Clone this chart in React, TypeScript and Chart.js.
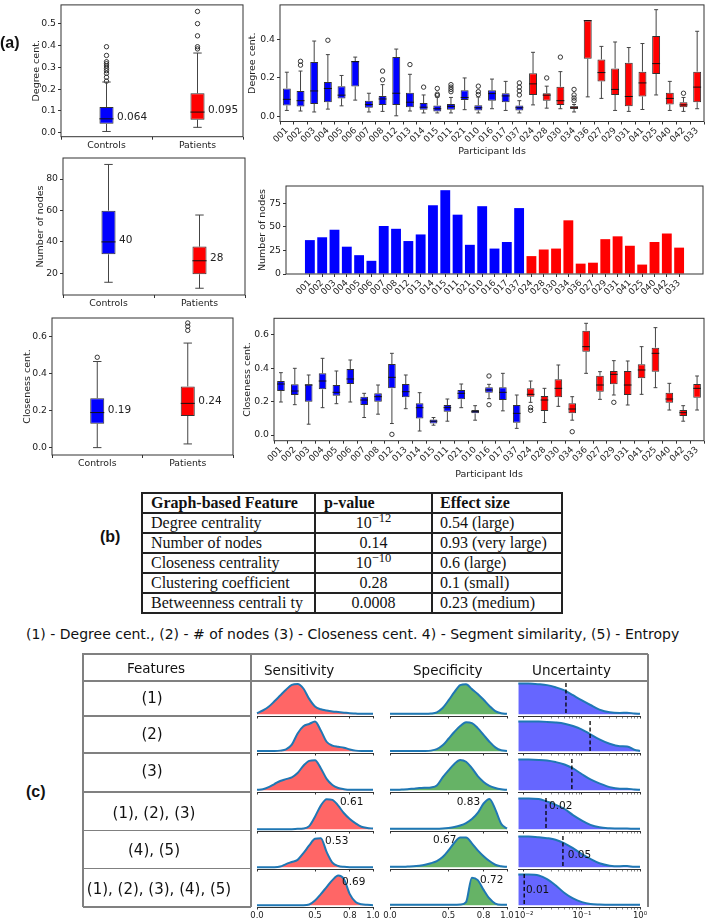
import React, { useEffect, useRef } from 'react';
import { Chart, registerables } from 'chart.js';

Chart.register(...registerables);

// ---------------- data ----------------
const PARTICIPANTS = ['001','002','003','004','005','006','007','008','012','013','014','015','011','021','010','016','017','037','024','028','030','034','036','027','029','031','041','025','040','042','033'];
const CONTROL_COUNT = 18;
const GROUPS = ['Controls', 'Patients'];

const NODE_COUNTS = [36,39,47,29,20,14,51,48,35,42,73,89,63,31,72,27,34,70,19,26,27,57,11,12,37,40,30,10,34,43,28];

// [lower whisker, Q1, median, Q3, upper whisker]
const DEGREE_BOX = [
  [0.03,0.056,0.088,0.145,0.23],[0.027,0.051,0.081,0.132,0.236],[0.022,0.064,0.132,0.284,0.393],[0.037,0.073,0.145,0.179,0.322],
  [0.054,0.093,0.11,0.157,0.213],[0.084,0.155,0.285,0.289,0.309],[0.022,0.044,0.061,0.081,0.12],[0.025,0.059,0.09,0.106,0.165],
  [0.002,0.059,0.12,0.309,0.351],[0.027,0.047,0.073,0.123,0.219],[0.017,0.034,0.047,0.069,0.111],[0.017,0.025,0.039,0.056,0.1],
  [0.017,0.034,0.051,0.064,0.098],[0.034,0.084,0.098,0.135,0.2],[0.017,0.03,0.044,0.057,0.1],[0.039,0.081,0.118,0.135,0.194],
  [0.03,0.073,0.106,0.12,0.182],[0.017,0.03,0.044,0.056,0.081],[0.059,0.111,0.169,0.224,0.334],[0.042,0.081,0.11,0.12,0.157],
  [0.039,0.059,0.081,0.154,0.233],[0.022,0.037,0.047,0.052,0.061],[0.101,0.3,0.5,0.5,0.5],[0.093,0.182,0.228,0.297,0.365],
  [0.03,0.111,0.14,0.25,0.388],[0.025,0.052,0.103,0.28,0.359],[0.035,0.103,0.174,0.233,0.38],[0.111,0.221,0.275,0.419,0.557],
  [0.03,0.061,0.093,0.122,0.182],[0.025,0.047,0.059,0.073,0.098],[0.039,0.073,0.152,0.233,0.444],
];
const DEGREE_OUTLIERS = [[],[0.287,0.267],[],[0.397],[],[],[],[0.236,0.19],[],[0.27],[0.152],[0.145,0.115,0.108],[0.165,0.152,0.14,0.128],[],[0.157,0.128,0.113],[],[],[0.174,0.152,0.132,0.111],[],[0.2],[0.309],[0.14,0.111,0.095,0.081],[],[],[],[],[],[],[],[0.12],[]];

const CLOSENESS_BOX = [
  [0.198,0.264,0.306,0.324,0.374],[0.182,0.24,0.264,0.304,0.4],[0.065,0.2,0.3,0.304,0.36],[0.164,0.274,0.324,0.37,0.46],
  [0.188,0.236,0.256,0.3,0.384],[0.198,0.306,0.336,0.396,0.45],[0.105,0.18,0.21,0.23,0.25],[0.125,0.2,0.23,0.25,0.3],
  [0.069,0.28,0.346,0.426,0.49],[0.158,0.226,0.26,0.306,0.36],[0.024,0.099,0.164,0.19,0.254],[0.059,0.069,0.083,0.093,0.105],
  [0.083,0.14,0.164,0.18,0.216],[0.164,0.214,0.25,0.27,0.306],[0.089,0.13,0.14,0.15,0.176],[0.218,0.254,0.27,0.286,0.304],
  [0.145,0.21,0.256,0.286,0.37],[0.04,0.073,0.13,0.18,0.24],[0.196,0.23,0.244,0.28,0.324],[0.075,0.144,0.21,0.234,0.28],
  [0.172,0.226,0.28,0.334,0.42],[0.089,0.13,0.156,0.19,0.23],[0.37,0.5,0.53,0.626,0.67],[0.214,0.26,0.3,0.356,0.38],
  [0.24,0.304,0.364,0.384,0.446],[0.18,0.24,0.3,0.384,0.444],[0.244,0.34,0.39,0.424,0.53],[0.284,0.38,0.49,0.524,0.644],
  [0.15,0.194,0.216,0.254,0.31],[0.083,0.114,0.134,0.15,0.176],[0.15,0.224,0.28,0.306,0.354],
];
const CLOSENESS_OUTLIERS = [[],[],[],[],[],[],[],[],[0.004],[],[],[],[],[],[],[0.354,0.182],[],[],[0.165,0.148],[],[],[0.02],[],[],[0.196],[],[],[],[],[],[]];

const DEGREE_GROUP_BOX = [[0.006,0.041,0.064,0.118,0.233],[0.025,0.06,0.095,0.181,0.366]];
const DEGREE_GROUP_OUTLIERS = [[0.237,0.255,0.273,0.285,0.296,0.307,0.317,0.326,0.355,0.395],[0.385,0.395,0.445,0.501,0.557]];
const NODES_GROUP_BOX = [[14.3,32.1,40,59.9,89.3],[10.5,19.4,28,37,57.1]];
const NODES_GROUP_OUTLIERS = [[],[]];
const CLOSENESS_GROUP_BOX = [[0.0,0.13,0.19,0.268,0.467],[0.02,0.172,0.24,0.332,0.567]];
const CLOSENESS_GROUP_OUTLIERS = [[0.49],[0.636,0.658,0.676]];

const DEGREE_GROUP_TICKS = [0,0.1,0.2,0.3,0.4,0.5];
const DEGREE_TICKS = [0,0.2,0.4];
const NODES_GROUP_TICKS = [20,40,60,80];
const NODES_TICKS = [0,25,50,75];
const CLOSENESS_TICKS = [0,0.2,0.4,0.6];

const TABLE_HEADERS = ['Graph-based Feature','p-value','Effect size'];
const TABLE_FEATURES = ['Degree centrality','Number of nodes','Closeness centrality','Clustering coefficient','Betweenness centrali ty'];
const TABLE_PVALUES = ['10^-12','0.14','10^-10','0.28','0.0008'];
const TABLE_EFFECTS = ['0.54 (large)','0.93 (very large)','0.6 (large)','0.1 (small)','0.23 (medium)'];

const FEATURE_LEGEND = '(1) - Degree cent., (2) - # of nodes (3) - Closeness cent. 4) - Segment similarity, (5) - Entropy';
const GRID_HEADERS = ['Features','Sensitivity','Specificity','Uncertainty'];
const FEATURE_SETS = ['(1)','(2)','(3)','(1), (2), (3)','(4), (5)','(1), (2), (3), (4), (5)'];

const DENSITY_X = [0,0.05,0.1,0.15,0.2,0.25,0.3,0.35,0.4,0.45,0.5,0.55,0.6,0.65,0.7,0.75,0.8,0.85,0.9,0.95,1.0];
const SENSITIVITY_1 = [0.03,0.12,0.24,0.42,0.61,0.8,0.96,0.99,0.84,0.5,0.25,0.16,0.12,0.09,0.07,0.05,0.03,0.02,0.01,0.01,0.01];
const SENSITIVITY_2 = [0.01,0.01,0.01,0.01,0.02,0.06,0.22,0.6,0.84,0.92,1.0,0.7,0.32,0.19,0.15,0.12,0.06,0.02,0.01,0.01,0.01];
const SENSITIVITY_3 = [0.01,0.03,0.1,0.2,0.3,0.36,0.42,0.56,0.8,0.96,0.98,0.72,0.37,0.17,0.07,0.03,0.01,0.01,0.01,0.01,0.01];
const SENSITIVITY_4 = [0,0,0,0,0,0,0,0.01,0.02,0.1,0.41,0.77,0.98,0.96,0.77,0.52,0.33,0.19,0.08,0.04,0.02];
const SENSITIVITY_5 = [0,0,0,0,0.02,0.1,0.17,0.24,0.46,0.71,0.93,0.95,0.5,0.15,0.04,0.01,0,0,0,0,0];
const SENSITIVITY_6 = [0,0,0,0,0,0,0,0,0,0.02,0.15,0.36,0.59,0.82,0.97,0.85,0.36,0.1,0.03,0.01,0];
const SPECIFICITY_1 = [0.01,0.01,0.01,0.01,0.01,0.01,0.01,0.02,0.06,0.2,0.45,0.72,0.95,0.98,0.82,0.66,0.47,0.27,0.1,0.03,0.01];
const SPECIFICITY_2 = [0.01,0.01,0.01,0.01,0.01,0.01,0.01,0.02,0.07,0.2,0.42,0.65,0.85,0.98,0.95,0.78,0.55,0.32,0.13,0.03,0.01];
const SPECIFICITY_3 = [0.01,0.01,0.02,0.03,0.05,0.07,0.08,0.09,0.15,0.42,0.65,0.86,0.99,0.93,0.72,0.46,0.27,0.14,0.07,0.03,0.01];
const SPECIFICITY_4 = [0.01,0.01,0.01,0.01,0.01,0.01,0.01,0.01,0.01,0.02,0.04,0.07,0.12,0.2,0.33,0.53,0.84,0.99,0.65,0.18,0.02];
const SPECIFICITY_5 = [0.01,0.01,0.01,0.02,0.03,0.05,0.08,0.13,0.2,0.33,0.55,0.8,0.97,0.97,0.78,0.55,0.36,0.2,0.08,0.03,0.01];
const SPECIFICITY_6 = [0.01,0.01,0.01,0.01,0.01,0.01,0.01,0.01,0.01,0.01,0.01,0.01,0.02,0.1,0.9,0.82,0.5,0.22,0.05,0.01,0.01];

const UNCERTAINTY_X = [0.008,0.012,0.018,0.025,0.035,0.05,0.07,0.1,0.14,0.2,0.3,0.45,0.6,0.8,1.0];
const UNCERTAINTY_1 = [1,1,0.98,0.95,0.88,0.78,0.62,0.45,0.3,0.15,0.06,0.04,0.05,0.02,0.01];
const UNCERTAINTY_2 = [1,1,1,0.99,0.97,0.93,0.85,0.73,0.57,0.4,0.25,0.17,0.16,0.05,0.01];
const UNCERTAINTY_3 = [1,1,0.99,0.97,0.92,0.84,0.71,0.52,0.35,0.22,0.1,0.05,0.05,0.02,0.01];
const UNCERTAINTY_4 = [1,1,0.99,0.9,0.8,0.66,0.46,0.28,0.14,0.06,0.03,0.02,0.02,0.01,0.01];
const UNCERTAINTY_5 = [1,1,0.98,0.95,0.9,0.78,0.62,0.43,0.27,0.13,0.05,0.03,0.04,0.01,0.01];
const UNCERTAINTY_6 = [1,1,0.97,0.85,0.65,0.4,0.22,0.1,0.04,0.02,0.01,0.01,0.01,0.01,0.01];

const SENSITIVITY_ROWS = [SENSITIVITY_1,SENSITIVITY_2,SENSITIVITY_3,SENSITIVITY_4,SENSITIVITY_5,SENSITIVITY_6];
const SPECIFICITY_ROWS = [SPECIFICITY_1,SPECIFICITY_2,SPECIFICITY_3,SPECIFICITY_4,SPECIFICITY_5,SPECIFICITY_6];
const UNCERTAINTY_ROWS = [UNCERTAINTY_1,UNCERTAINTY_2,UNCERTAINTY_3,UNCERTAINTY_4,UNCERTAINTY_5,UNCERTAINTY_6];

const SENSITIVITY_TEXT = ['','','','0.61','0.53','0.69'];
const SPECIFICITY_TEXT = ['','','','0.83','0.67','0.72'];
const UNCERTAINTY_MEDIAN = [0.053,0.138,0.067,0.024,0.047,0.0101];
const UNCERTAINTY_TEXT = ['','','','0.02','0.05','0.01'];

const LIN_TICKS = [0,0.5,0.8,1.0];
const LOG_MAJOR = [0.01,0.1,1];
const LOG_TICKS = [0.01,0.02,0.03,0.04,0.05,0.06,0.07,0.08,0.09,0.1,0.2,0.3,0.4,0.5,0.6,0.7,0.8,0.9,1];
const LOG_LABELS = ['10\u207B\u00B2','10\u207B\u00B9','10\u2070'];

// ---------------- layout / style ----------------
const BLUE = '#0000ff';
const RED = '#ff0000';
const AXIS = '#333';
const TXT = '#222';
const F = '"DejaVu Sans", sans-serif';
const TICK_SIZE = 9.3;
const LINE_C = '#1f77b4';

// label anchors for annotations inside the density panels: [x (data), y (fraction of peak)]
const SENS_TEXT_AT = [null,null,null,[0.715,0.87],[0.586,0.84],[0.733,0.76]];
const SPEC_TEXT_AT = [null,null,null,[0.57,0.87],[0.368,0.88],[0.77,0.83]];
const UNC_TEXT_AT = [null,null,null,[0.027,0.74],[0.057,0.39],[0.0108,0.5]];

const COLS = [{ l: 257, r: 373 }, { l: 390, r: 507 }, { l: 518, r: 640 }];
const ROW_TOP = [682.5, 720.5, 758.5, 797.5, 835.5, 873.5];
const ROW_BOT = [716, 753, 792, 830.5, 868.5, 907];

const fitX = (h: number) => (s: any) => { s.height = h; s.paddingLeft = 0; s.paddingRight = 0; s.paddingTop = 0; s.paddingBottom = 0; };
const fitY = (w: number) => (s: any) => { s.width = w; s.paddingLeft = 0; s.paddingRight = 0; s.paddingTop = 0; s.paddingBottom = 0; };

function geom(c: any, a: any, yShown: boolean) {
  return {
    padding: { left: yShown ? 0 : a.l - c.l, top: a.t - c.t, right: c.l + c.w - a.r, bottom: 0 },
    yWidth: a.l - c.l,
    xHeight: c.t + c.h - a.b,
  };
}

const framePlugin = {
  id: 'frame',
  afterDraw(chart: any) {
    const { ctx, chartArea: a } = chart;
    ctx.save();
    ctx.strokeStyle = AXIS;
    ctx.lineWidth = 1;
    ctx.strokeRect(a.left, a.top, a.right - a.left, a.bottom - a.top);
    ctx.restore();
  },
};

function boxPlugin(stats: number[][], capPct: number, decimals?: number) {
  return {
    id: 'boxWhisker',
    afterDatasetsDraw(chart: any) {
      const ctx = chart.ctx;
      const y = chart.scales.y;
      const meta = chart.getDatasetMeta(0);
      ctx.save();
      meta.data.forEach((bar: any, i: number) => {
        const s = stats[i];
        const x = bar.x;
        const w = bar.width;
        const cw = (w * capPct) / 2;
        const py = (v: number) => y.getPixelForValue(v);
        ctx.strokeStyle = '#444';
        ctx.lineWidth = 1;
        ctx.beginPath();
        ctx.moveTo(x, py(s[0])); ctx.lineTo(x, py(s[1]));
        ctx.moveTo(x, py(s[3])); ctx.lineTo(x, py(s[4]));
        ctx.moveTo(x - cw, py(s[0])); ctx.lineTo(x + cw, py(s[0]));
        ctx.moveTo(x - cw, py(s[4])); ctx.lineTo(x + cw, py(s[4]));
        ctx.stroke();
        ctx.strokeStyle = '#111';
        ctx.beginPath();
        ctx.moveTo(x - w / 2, py(s[2])); ctx.lineTo(x + w / 2, py(s[2]));
        ctx.stroke();
        if (decimals !== undefined) {
          ctx.fillStyle = TXT;
          ctx.font = `10.5px ${F}`;
          ctx.textAlign = 'left';
          ctx.textBaseline = 'middle';
          ctx.fillText(s[2].toFixed(decimals), x + w / 2 + 3.5, py(s[2]) - 2);
        }
      });
      ctx.restore();
    },
  };
}

function axisGrid() {
  return { display: true, drawOnChartArea: false, drawTicks: true, tickLength: 3, color: AXIS };
}

function boxConfig(o: any) {
  const g = geom(o.rect, o.area, true);
  const pts: any[] = [];
  o.outliers.forEach((arr: number[], i: number) => arr.forEach((v) => pts.push({ x: o.labels[i], y: v })));
  const lh = 9.5 * 1.2;
  return {
    type: 'bar',
    data: {
      labels: o.labels,
      datasets: [
        {
          type: 'bar',
          data: o.stats.map((s: number[]) => [s[1], s[3]]),
          backgroundColor: o.colors,
          borderColor: '#333',
          borderWidth: 1,
          borderSkipped: false,
          barPercentage: o.boxPct,
          categoryPercentage: 1,
          order: 1,
        },
        {
          type: 'scatter',
          data: pts,
          pointRadius: 2.2,
          pointBorderWidth: 0.9,
          pointBorderColor: '#222',
          pointBackgroundColor: 'rgba(0,0,0,0)',
          showLine: false,
          order: 0,
        },
      ],
    },
    options: {
      responsive: false,
      animation: false,
      devicePixelRatio: 1,
      events: [],
      layout: { padding: g.padding },
      plugins: { legend: { display: false }, tooltip: { enabled: false } },
      scales: {
        x: {
          type: 'category',
          offset: true,
          afterFit: fitX(g.xHeight),
          grid: axisGrid(),
          border: { display: false },
          ticks: {
            color: TXT,
            font: { family: F, size: o.rotate ? 8.8 : TICK_SIZE },
            padding: o.rotate ? 1 : 0,
            autoSkip: false,
            maxRotation: o.rotate ? 45 : 0,
            minRotation: o.rotate ? 45 : 0,
          },
          title: o.xTitle
            ? { display: true, text: o.xTitle, color: TXT, font: { family: F, size: 9.5 }, padding: { top: 0, bottom: 0 } }
            : { display: false },
        },
        y: {
          type: 'linear',
          min: o.yMin,
          max: o.yMax,
          bounds: 'data',
          afterFit: fitY(g.yWidth),
          afterBuildTicks: (s: any) => { s.ticks = o.yTicks.map((v: number) => ({ value: v })); },
          grid: axisGrid(),
          border: { display: false },
          ticks: { color: TXT, font: { family: F, size: TICK_SIZE }, padding: 2, callback: o.yFmt },
          title: {
            display: true,
            text: o.yTitle,
            color: TXT,
            font: { family: F, size: 9.5 },
            padding: { top: o.yTitleX - o.rect.l - lh / 2, bottom: 0 },
          },
        },
      },
    },
    plugins: [boxPlugin(o.stats, o.capPct, o.decimals), framePlugin],
  };
}

function barConfig(o: any) {
  const g = geom(o.rect, o.area, true);
  const lh = 9.5 * 1.2;
  return {
    type: 'bar',
    data: {
      datasets: [
        {
          data: NODE_COUNTS.map((v, i) => ({ x: i, y: v })),
          backgroundColor: PARTICIPANTS.map((_, i) => (i < CONTROL_COUNT ? BLUE : RED)),
          borderWidth: 0,
          barPercentage: 0.8,
          categoryPercentage: 1,
        },
      ],
    },
    options: {
      responsive: false,
      animation: false,
      devicePixelRatio: 1,
      events: [],
      layout: { padding: g.padding },
      plugins: { legend: { display: false }, tooltip: { enabled: false } },
      scales: {
        x: {
          type: 'linear',
          min: -1.94,
          max: PARTICIPANTS.length - 1 + 1.94,
          offset: false,
          bounds: 'data',
          afterFit: fitX(g.xHeight),
          afterBuildTicks: (s: any) => { s.ticks = PARTICIPANTS.map((_, i) => ({ value: i })); },
          grid: { ...axisGrid(), offset: false },
          border: { display: false },
          ticks: {
            color: TXT,
            font: { family: F, size: 8.8 },
            padding: 1,
            autoSkip: false,
            maxRotation: 45,
            minRotation: 45,
            callback: (v: number) => PARTICIPANTS[v],
          },
        },
        y: {
          type: 'linear',
          min: 0,
          max: 93.45,
          bounds: 'data',
          afterFit: fitY(g.yWidth),
          afterBuildTicks: (s: any) => { s.ticks = NODES_TICKS.map((v) => ({ value: v })); },
          grid: axisGrid(),
          border: { display: false },
          ticks: { color: TXT, font: { family: F, size: TICK_SIZE }, padding: 2 },
          title: {
            display: true,
            text: 'Number of nodes',
            color: TXT,
            font: { family: F, size: 9.5 },
            padding: { top: o.yTitleX - o.rect.l - lh / 2, bottom: 0 },
          },
        },
      },
    },
    plugins: [framePlugin],
  };
}

function extrasPlugin(vline: number | null, text: string, at: number[] | null) {
  return {
    id: 'miniExtras',
    afterDatasetsDraw(chart: any) {
      const { ctx, chartArea: a, scales } = chart;
      const x = scales.x;
      const y = scales.y;
      ctx.save();
      if (vline !== null) {
        const px = x.getPixelForValue(vline);
        ctx.setLineDash([4, 2.5]);
        ctx.strokeStyle = '#000';
        ctx.lineWidth = 1.3;
        ctx.beginPath();
        ctx.moveTo(px, a.top);
        ctx.lineTo(px, y.getPixelForValue(0));
        ctx.stroke();
        ctx.setLineDash([]);
      }
      if (text && at) {
        ctx.fillStyle = '#111';
        ctx.font = `10.5px ${F}`;
        ctx.textAlign = 'left';
        ctx.textBaseline = 'middle';
        ctx.fillText(text, x.getPixelForValue(at[0]), y.getPixelForValue(at[1]));
      }
      ctx.restore();
    },
  };
}

function densityConfig(o: any) {
  const g = geom(o.rect, o.area, false);
  const ticksList = o.log ? LOG_TICKS : LIN_TICKS;
  return {
    type: 'line',
    data: {
      datasets: [
        {
          data: o.xs.map((x: number, i: number) => ({ x, y: o.ys[i] })),
          borderColor: LINE_C,
          borderWidth: 2,
          backgroundColor: o.fill,
          fill: 'origin',
          pointRadius: 0,
          cubicInterpolationMode: 'monotone',
          clip: 4,
        },
      ],
    },
    options: {
      responsive: false,
      animation: false,
      devicePixelRatio: 1,
      events: [],
      layout: { padding: g.padding },
      plugins: { legend: { display: false }, tooltip: { enabled: false } },
      scales: {
        x: {
          type: o.log ? 'logarithmic' : 'linear',
          min: o.log ? 0.0079 : 0,
          max: 1,
          offset: false,
          bounds: 'data',
          afterBuildTicks: (s: any) => { s.ticks = ticksList.map((v: number) => ({ value: v })); },
          afterFit: fitX(g.xHeight),
          grid: {
            display: true,
            drawOnChartArea: false,
            drawTicks: true,
            tickLength: 2.5,
            color: AXIS,
            tickWidth: (c: any) => (o.log && c.tick && LOG_MAJOR.indexOf(c.tick.value) < 0 ? 0.6 : 1),
          },
          border: { display: true, color: AXIS, width: 1 },
          ticks: {
            display: o.showLabels,
            autoSkip: false,
            maxRotation: 0,
            minRotation: 0,
            color: TXT,
            font: { family: F, size: 8.5 },
            padding: 1,
            callback: (v: number) => {
              if (o.log) {
                const k = LOG_MAJOR.indexOf(v);
                return k >= 0 ? LOG_LABELS[k] : '';
              }
              return v.toFixed(1);
            },
          },
        },
        y: { display: false, min: -0.06, max: 1.02 },
      },
    },
    plugins: [extrasPlugin(o.vline ?? null, o.text, o.at)],
  };
}

function ChartBox({ rect, make }: { rect: any; make: () => any }) {
  const ref = useRef<HTMLCanvasElement>(null);
  useEffect(() => {
    const chart = new Chart(ref.current as HTMLCanvasElement, make());
    return () => chart.destroy();
  }, []);
  return (
    <canvas
      ref={ref}
      width={rect.w}
      height={rect.h}
      style={{ position: 'absolute', left: rect.l, top: rect.t, width: rect.w, height: rect.h }}
    />
  );
}

function Txt({ x, y, size, children, weight, family, align, color }: any) {
  const lh = size * 1.2;
  const tr = align === 'center' ? 'translateX(-50%)' : align === 'right' ? 'translateX(-100%)' : undefined;
  return (
    <div
      style={{
        position: 'absolute',
        left: x,
        top: y - lh / 2,
        fontSize: size,
        lineHeight: `${lh}px`,
        fontFamily: family || F,
        fontWeight: weight || 'normal',
        whiteSpace: 'nowrap',
        transform: tr,
        color: color || '#111',
      }}
    >
      {children}
    </div>
  );
}

function HLine({ x1, x2, y, w = 1.5, c = '#222' }: any) {
  return <div style={{ position: 'absolute', left: x1, top: y - w / 2, width: x2 - x1, height: w, background: c }} />;
}
function VLine({ y1, y2, x, w = 1.5, c = '#222' }: any) {
  return <div style={{ position: 'absolute', left: x - w / 2, top: y1, width: w, height: y2 - y1, background: c }} />;
}

function PValue({ v }: { v: string }) {
  if (v.startsWith('10^')) {
    return (
      <span>
        10<sup style={{ fontSize: 12.5, lineHeight: 0, verticalAlign: 6 }}>{'\u2212' + v.slice(4)}</sup>
      </span>
    );
  }
  return <span>{v}</span>;
}

const groupColors = [BLUE, RED];
const participantColors = PARTICIPANTS.map((_, i) => (i < CONTROL_COUNT ? BLUE : RED));

export default function App() {
  const serif = '"Liberation Serif", "Times New Roman", serif';
  const labelFont = '"Liberation Sans", Arial, sans-serif';
  const tableRowsY = [493, 513, 533, 553, 573, 593, 613];
  const tableColsX = [142, 315, 432, 562];
  const gridLine = '#808080';
  const rowLabelX = [152, 152, 152, 154, 154, 159];
  const rowLabelY = [698, 734, 770.7, 813, 850, 889];

  const charts: any[] = [];
  // (a) group box plots
  charts.push({
    rect: { l: 0, t: 0, w: 250, h: 160 },
    make: () => boxConfig({
      rect: { l: 0, t: 0, w: 250, h: 160 }, area: { l: 61, t: 0.5, r: 243, b: 136.7 },
      labels: GROUPS, stats: DEGREE_GROUP_BOX, outliers: DEGREE_GROUP_OUTLIERS, colors: groupColors,
      yMin: -0.018, yMax: 0.587, yTicks: DEGREE_GROUP_TICKS, yFmt: (v: number) => v.toFixed(1),
      yTitle: 'Degree cent.', yTitleX: 37, boxPct: 0.155, capPct: 0.6, rotate: false, decimals: 3,
    }),
  });
  charts.push({
    rect: { l: 0, t: 145, w: 250, h: 165 },
    make: () => boxConfig({
      rect: { l: 0, t: 145, w: 250, h: 165 }, area: { l: 63, t: 158, r: 245, b: 295 },
      labels: GROUPS, stats: NODES_GROUP_BOX, outliers: NODES_GROUP_OUTLIERS, colors: groupColors,
      yMin: 6.2, yMax: 93.4, yTicks: NODES_GROUP_TICKS, yFmt: (v: number) => String(v),
      yTitle: 'Number of nodes', yTitleX: 41, boxPct: 0.155, capPct: 0.6, rotate: false, decimals: 0,
    }),
  });
  charts.push({
    rect: { l: 0, t: 310, w: 240, h: 160 },
    make: () => boxConfig({
      rect: { l: 0, t: 310, w: 240, h: 160 }, area: { l: 52, t: 318, r: 233, b: 455 },
      labels: GROUPS, stats: CLOSENESS_GROUP_BOX, outliers: CLOSENESS_GROUP_OUTLIERS, colors: groupColors,
      yMin: -0.04, yMax: 0.703, yTicks: CLOSENESS_TICKS, yFmt: (v: number) => v.toFixed(1),
      yTitle: 'Closeness cent.', yTitleX: 28, boxPct: 0.155, capPct: 0.6, rotate: false, decimals: 2,
    }),
  });
  // (a) per participant
  charts.push({
    rect: { l: 235, t: 0, w: 474, h: 157 },
    make: () => boxConfig({
      rect: { l: 235, t: 0, w: 474, h: 157 }, area: { l: 280, t: 1, r: 704, b: 121.5 },
      labels: PARTICIPANTS, stats: DEGREE_BOX, outliers: DEGREE_OUTLIERS, colors: participantColors,
      yMin: -0.0278, yMax: 0.582, yTicks: DEGREE_TICKS, yFmt: (v: number) => v.toFixed(1),
      yTitle: 'Degree cent.', yTitleX: 253, boxPct: 0.58, capPct: 0.5, rotate: true, xTitle: 'Participant Ids',
    }),
  });
  charts.push({
    rect: { l: 240, t: 175, w: 469, h: 125 },
    make: () => barConfig({ rect: { l: 240, t: 175, w: 469, h: 125 }, area: { l: 286, t: 186, r: 703, b: 274 }, yTitleX: 263 }),
  });
  charts.push({
    rect: { l: 235, t: 305, w: 474, h: 175 },
    make: () => boxConfig({
      rect: { l: 235, t: 305, w: 474, h: 175 }, area: { l: 274, t: 318.3, r: 704, b: 440.7 },
      labels: PARTICIPANTS, stats: CLOSENESS_BOX, outliers: CLOSENESS_OUTLIERS, colors: participantColors,
      yMin: -0.034, yMax: 0.7, yTicks: CLOSENESS_TICKS, yFmt: (v: number) => v.toFixed(1),
      yTitle: 'Closeness cent.', yTitleX: 248, boxPct: 0.55, capPct: 0.5, rotate: true, xTitle: 'Participant Ids',
    }),
  });

  // (c) density panels
  const fills = ['rgba(255,0,0,0.6)', 'rgba(0,128,0,0.6)', 'rgba(0,0,255,0.6)'];
  for (let r = 0; r < 6; r++) {
    const last = r === 5;
    for (let c = 0; c < 3; c++) {
      const col = COLS[c];
      const rect = { l: col.l - 10, t: ROW_TOP[r] - 4, w: col.r - col.l + 20, h: ROW_BOT[r] - ROW_TOP[r] + 4 + (last ? 16 : 4) };
      const area = { l: col.l, t: ROW_TOP[r], r: col.r, b: ROW_BOT[r] };
      const isLog = c === 2;
      const ys = c === 0 ? SENSITIVITY_ROWS[r] : c === 1 ? SPECIFICITY_ROWS[r] : UNCERTAINTY_ROWS[r];
      const text = c === 0 ? SENSITIVITY_TEXT[r] : c === 1 ? SPECIFICITY_TEXT[r] : UNCERTAINTY_TEXT[r];
      const at = c === 0 ? SENS_TEXT_AT[r] : c === 1 ? SPEC_TEXT_AT[r] : UNC_TEXT_AT[r];
      charts.push({
        rect,
        make: () => densityConfig({
          rect, area, xs: isLog ? UNCERTAINTY_X : DENSITY_X, ys, fill: fills[c], log: isLog,
          showLabels: last, vline: isLog ? UNCERTAINTY_MEDIAN[r] : null, text, at,
        }),
      });
    }
  }

  return (
    <div style={{ position: 'absolute', left: 0, top: 0, width: 709, height: 921, background: '#fff', overflow: 'hidden' }}>
      {charts.map((ch, i) => (
        <ChartBox key={i} rect={ch.rect} make={ch.make} />
      ))}

      <Txt x={0} y={43} size={16} weight="bold" family={labelFont}>(a)</Txt>
      <Txt x={100} y={537} size={16} weight="bold" family={labelFont}>(b)</Txt>
      <Txt x={26} y={792} size={16} weight="bold" family={labelFont}>(c)</Txt>

      {/* (b) table */}
      {tableRowsY.map((y, i) => (
        <HLine key={'th' + i} x1={tableColsX[0] - 0.75} x2={tableColsX[3] + 0.75} y={y} />
      ))}
      {tableColsX.map((x, i) => (
        <VLine key={'tv' + i} x={x} y1={tableRowsY[0]} y2={tableRowsY[6]} />
      ))}
      <Txt x={151} y={503} size={16} weight="bold" family={serif}>{TABLE_HEADERS[0]}</Txt>
      <Txt x={324} y={503} size={16} weight="bold" family={serif}>{TABLE_HEADERS[1]}</Txt>
      <Txt x={440} y={503} size={16} weight="bold" family={serif}>{TABLE_HEADERS[2]}</Txt>
      {TABLE_FEATURES.map((f, i) => (
        <React.Fragment key={'tr' + i}>
          <Txt x={151} y={523 + i * 20} size={16} family={serif}>{f}</Txt>
          <Txt x={373.5} y={523 + i * 20} size={16} family={serif} align="center"><PValue v={TABLE_PVALUES[i]} /></Txt>
          <Txt x={440} y={523 + i * 20} size={16} family={serif}>{TABLE_EFFECTS[i]}</Txt>
        </React.Fragment>
      ))}

      <Txt x={26} y={634} size={14} color="#111">{FEATURE_LEGEND}</Txt>

      {/* (c) grid */}
      <HLine x1={82} x2={648} y={654} c={gridLine} />
      <HLine x1={82} x2={648} y={681} c={gridLine} />
      <VLine x={83} y1={654} y2={907} c={gridLine} />
      <VLine x={251} y1={654} y2={907} c={gridLine} />
      <VLine x={648} y1={654} y2={907} c={gridLine} />
      {ROW_BOT.map((y, i) => (
        <HLine key={'gr' + i} x1={83} x2={251} y={y} c={gridLine} />
      ))}
      <Txt x={156} y={668} size={13.5} align="center">{GRID_HEADERS[0]}</Txt>
      <Txt x={264} y={670.5} size={13.5}>{GRID_HEADERS[1]}</Txt>
      <Txt x={413} y={670.5} size={13.5}>{GRID_HEADERS[2]}</Txt>
      <Txt x={532} y={670} size={13.5}>{GRID_HEADERS[3]}</Txt>
      {FEATURE_SETS.map((s, i) => (
        <Txt key={'fs' + i} x={rowLabelX[i]} y={rowLabelY[i]} size={15} align="center">{s}</Txt>
      ))}
    </div>
  );
}
